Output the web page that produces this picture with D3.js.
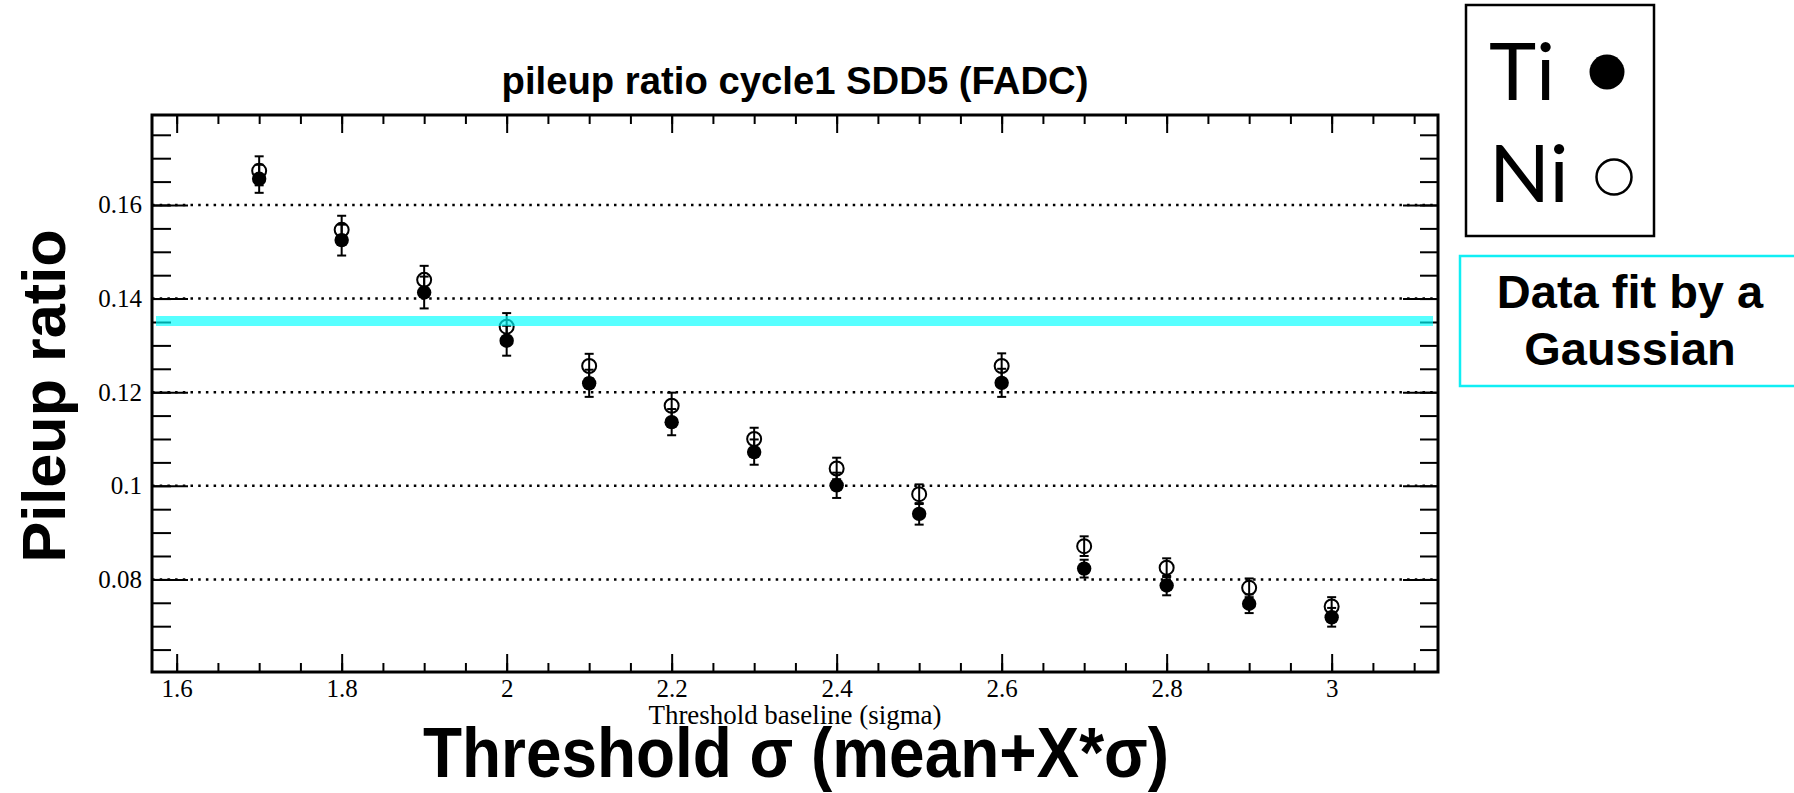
<html>
<head>
<style>
    body { margin: 0; background: #ffffff; }
    svg { display: block; }
    .tick text { font-family: "Liberation Serif", "Times New Roman", serif; font-size: 25px; fill: #000; }
    .tick line { stroke: #000; stroke-width: 2; }
    .domain { display: none; }
</style>
</head>
<body>
<svg id="container" width="1794" height="793"></svg>

<script src="https://cdn.jsdelivr.net/npm/d3@7"></script>
<script>
    // threshold (X in mean + X*sigma)
    let thresholds = [1.7, 1.8, 1.9, 2.0, 2.1, 2.2, 2.3, 2.4, 2.5, 2.6, 2.7, 2.8, 2.9, 3.0]

    // Ti, filled markers
    let tiRatio = [0.1656, 0.1525, 0.1413, 0.1310, 0.1219, 0.1136, 0.1072, 0.1001, 0.0940, 0.1220, 0.0823, 0.0787, 0.0748, 0.0719]
    let tiErr   = [0.0030, 0.0033, 0.0034, 0.0032, 0.0029, 0.0028, 0.0027, 0.0027, 0.0023, 0.0030, 0.0019, 0.0021, 0.0020, 0.0020]

    // Ni, open markers
    let niRatio = [0.1673, 0.1547, 0.1440, 0.1340, 0.1256, 0.1171, 0.1100, 0.1037, 0.0982, 0.1256, 0.0871, 0.0825, 0.0782, 0.0742]
    let niErr   = [0.0031, 0.0030, 0.0030, 0.0029, 0.0026, 0.0028, 0.0024, 0.0023, 0.0021, 0.0027, 0.0021, 0.0020, 0.0020, 0.0020]

    // gaussian fit value (cyan band)
    let gaussFit = 0.1352

    let xMajor = [1.6, 1.8, 2.0, 2.2, 2.4, 2.6, 2.8, 3.0]
    let xMinor = d3.range(1.6, 3.13, 0.05).map(d => +d.toFixed(2))
    let yMajor = [0.08, 0.10, 0.12, 0.14, 0.16]
    let yMinor = d3.range(0.065, 0.179, 0.005).map(d => +d.toFixed(3))

    let seriesNames = ["Ti", "Ni"]

    let svg = d3.select("#container")

    let plotLeft = 152, plotRight = 1438, plotTop = 115, plotBottom = 672

    let x = d3.scaleLinear()
        .domain([1.5701, 3.1289])
        .range([plotLeft, plotRight])

    let y = d3.scaleLinear()
        .domain([0.06021, 0.17923])
        .range([plotBottom, plotTop])

    // dotted grid at major y ticks
    svg.append("g")
        .selectAll("line")
        .data(yMajor)
        .enter()
        .append("line")
        .attr("x1", plotLeft)
        .attr("x2", plotRight)
        .attr("y1", d => y(d))
        .attr("y2", d => y(d))
        .attr("stroke", "#000")
        .attr("stroke-width", 2.5)
        .attr("stroke-dasharray", "2.5,5.2")

    // axes: ticks pointing inward, ROOT style
    svg.append("g")
        .attr("transform", `translate(${plotLeft},0)`)
        .call(d3.axisLeft(y).tickValues(yMajor).tickSizeInner(-36).tickSizeOuter(0).tickPadding(10)
            .tickFormat(d => d3.format("")(+d.toFixed(2))))
    svg.append("g")
        .attr("transform", `translate(${plotLeft},0)`)
        .call(d3.axisLeft(y).tickValues(yMinor).tickSizeInner(-19).tickSizeOuter(0).tickFormat(""))
    svg.append("g")
        .attr("transform", `translate(${plotRight},0)`)
        .call(d3.axisRight(y).tickValues(yMajor).tickSizeInner(-35).tickSizeOuter(0).tickFormat(""))
    svg.append("g")
        .attr("transform", `translate(${plotRight},0)`)
        .call(d3.axisRight(y).tickValues(yMinor).tickSizeInner(-18).tickSizeOuter(0).tickFormat(""))

    svg.append("g")
        .attr("transform", `translate(0,${plotBottom})`)
        .call(d3.axisBottom(x).tickValues(xMajor).tickSizeInner(-18).tickSizeOuter(0).tickPadding(7)
            .tickFormat(d => d3.format("")(+d.toFixed(1))))
    svg.append("g")
        .attr("transform", `translate(0,${plotBottom})`)
        .call(d3.axisBottom(x).tickValues(xMinor).tickSizeInner(-9).tickSizeOuter(0).tickFormat(""))
    svg.append("g")
        .attr("transform", `translate(0,${plotTop})`)
        .call(d3.axisTop(x).tickValues(xMajor).tickSizeInner(-18).tickSizeOuter(0).tickFormat(""))
    svg.append("g")
        .attr("transform", `translate(0,${plotTop})`)
        .call(d3.axisTop(x).tickValues(xMinor).tickSizeInner(-9).tickSizeOuter(0).tickFormat(""))

    // frame
    svg.append("rect")
        .attr("x", plotLeft)
        .attr("y", plotTop)
        .attr("width", plotRight - plotLeft)
        .attr("height", plotBottom - plotTop)
        .attr("fill", "none")
        .attr("stroke", "#000")
        .attr("stroke-width", 3)

    // data points with error bars
    function drawSeries(values, errs, filled) {
        let data = thresholds.map((t, i) => ({ t: t, v: values[i], e: errs[i] }))
        let g = svg.append("g")
        let pts = g.selectAll("g")
            .data(data)
            .enter()
            .append("g")

        pts.append("line")
            .attr("x1", d => x(d.t)).attr("x2", d => x(d.t))
            .attr("y1", d => y(d.v - d.e)).attr("y2", d => y(d.v + d.e))
            .attr("stroke", "#000").attr("stroke-width", 2)
        pts.selectAll(".cap")
            .data(d => [d.v - d.e, d.v + d.e].map(v => ({ t: d.t, v: v })))
            .enter()
            .append("line")
            .attr("class", "cap")
            .attr("x1", d => x(d.t) - 4.5).attr("x2", d => x(d.t) + 4.5)
            .attr("y1", d => y(d.v)).attr("y2", d => y(d.v))
            .attr("stroke", "#000").attr("stroke-width", 2)

        pts.append("circle")
            .attr("cx", d => x(d.t))
            .attr("cy", d => y(d.v))
            .attr("r", filled ? 7.2 : 7)
            .attr("fill", filled ? "#000" : "none")
            .attr("stroke", "#000")
            .attr("stroke-width", filled ? 0 : 2)
    }

    drawSeries(niRatio, niErr, false)
    drawSeries(tiRatio, tiErr, true)

    // gaussian fit band
    svg.append("line")
        .attr("x1", plotLeft + 4)
        .attr("x2", plotRight - 5)
        .attr("y1", y(gaussFit))
        .attr("y2", y(gaussFit))
        .attr("stroke", "#00ffff")
        .attr("stroke-opacity", 0.66)
        .attr("stroke-width", 10)

    // titles
    svg.append("text")
        .attr("x", (plotLeft + plotRight) / 2)
        .attr("y", 94)
        .attr("text-anchor", "middle")
        .attr("font-family", "Liberation Sans, Arial, sans-serif")
        .attr("font-weight", "bold")
        .attr("font-size", 38)
        .attr("textLength", 587)
        .attr("lengthAdjust", "spacingAndGlyphs")
        .text("pileup ratio cycle1 SDD5 (FADC)")

    svg.append("text")
        .attr("x", (plotLeft + plotRight) / 2)
        .attr("y", 724)
        .attr("text-anchor", "middle")
        .attr("font-family", "Liberation Serif, Times New Roman, serif")
        .attr("font-size", 27)
        .attr("textLength", 293)
        .attr("lengthAdjust", "spacingAndGlyphs")
        .text("Threshold baseline (sigma)")

    svg.append("text")
        .attr("x", 796)
        .attr("y", 777)
        .attr("text-anchor", "middle")
        .attr("font-family", "Liberation Sans, Arial, sans-serif")
        .attr("font-weight", "bold")
        .attr("font-size", 70)
        .attr("textLength", 746)
        .attr("lengthAdjust", "spacingAndGlyphs")
        .text("Threshold σ (mean+X*σ)")

    svg.append("text")
        .attr("transform", "translate(65,396) rotate(-90)")
        .attr("text-anchor", "middle")
        .attr("font-family", "Liberation Sans, Arial, sans-serif")
        .attr("font-weight", "bold")
        .attr("font-size", 62)
        .attr("textLength", 333)
        .attr("lengthAdjust", "spacingAndGlyphs")
        .text("Pileup ratio")

    // legend
    let legend = svg.append("g")
    legend.append("rect")
        .attr("x", 1466).attr("y", 5)
        .attr("width", 188).attr("height", 231)
        .attr("fill", "#fff").attr("stroke", "#000").attr("stroke-width", 2.5)

    let rows = legend.selectAll(".row")
        .data(seriesNames)
        .enter()
        .append("g")
        .attr("class", "row")
        .attr("transform", (d, i) => `translate(0,${i * 102})`)

    rows.append("text")
        .attr("x", 1489)
        .attr("y", 100)
        .attr("font-family", "Lato, Liberation Sans, sans-serif")
        .attr("font-size", 80)
        .text(d => d)
    rows.append("circle")
        .attr("cx", (d, i) => i === 0 ? 1607 : 1614)
        .attr("cy", (d, i) => i === 0 ? 72 : 75)
        .attr("r", 17.5)
        .attr("fill", (d, i) => i === 0 ? "#000" : "none")
        .attr("stroke", "#000")
        .attr("stroke-width", (d, i) => i === 0 ? 0 : 2.5)

    // fit note box
    svg.append("rect")
        .attr("x", 1460).attr("y", 256)
        .attr("width", 400).attr("height", 130)
        .attr("fill", "#fff").attr("stroke", "#10eef4").attr("stroke-width", 2.5)

    svg.append("g")
        .selectAll("text")
        .data(["Data fit by a", "Gaussian"])
        .enter()
        .append("text")
        .attr("x", 1630)
        .attr("y", (d, i) => 308 + i * 57)
        .attr("text-anchor", "middle")
        .attr("font-family", "Liberation Sans, Arial, sans-serif")
        .attr("font-weight", "bold")
        .attr("font-size", 47)
        .text(d => d)
</script>
</body>
</html>
